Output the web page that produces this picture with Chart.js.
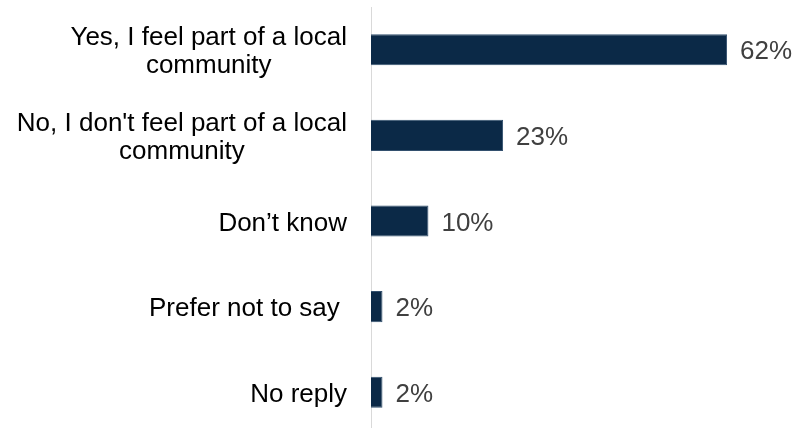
<!DOCTYPE html>
<html>
<head>
<meta charset="utf-8">
<script src="https://cdn.jsdelivr.net/npm/chart.js@4"></script>
<style>
  html, body { margin: 0; padding: 0; background: #fff; overflow: hidden; }
  #wrap { width: 796px; height: 435px; }
</style>
</head>
<body>
<div id="wrap"><canvas id="c"></canvas></div>
<script>
const categories = [
  ['Yes, I feel part of a local', 'community'],
  ['No, I don\'t feel part of a local', 'community'],
  ['Don\u2019t know'],
  ['Prefer not to say '],
  ['No reply']
];
const shares = [62, 23, 10, 2, 2];

const FONT = '26px "Liberation Sans", Arial, sans-serif';

// category labels: block right aligned to the axis, each line centred in the block
const catLabels = {
  id: 'catLabels',
  afterDraw(chart) {
    const ctx = chart.ctx;
    const y = chart.scales.y;
    ctx.save();
    ctx.font = FONT;
    ctx.fillStyle = '#000';
    ctx.textAlign = 'center';
    ctx.textBaseline = 'alphabetic';
    const right = chart.chartArea.left - 24;
    categories.forEach((lines, i) => {
      const cy = y.getPixelForValue(i);
      const w = Math.max(...lines.map(l => ctx.measureText(l).width));
      const cx = right - w / 2;
      lines.forEach((l, j) => {
        ctx.fillText(l, cx, cy + (j - (lines.length - 1) / 2) * 28 + 9.5);
      });
    });
    ctx.restore();
  }
};

// value labels at bar ends
const valLabels = {
  id: 'valLabels',
  afterDatasetsDraw(chart) {
    const ctx = chart.ctx;
    const meta = chart.getDatasetMeta(0);
    ctx.save();
    ctx.font = FONT;
    ctx.fillStyle = '#404040';
    ctx.textAlign = 'left';
    ctx.textBaseline = 'alphabetic';
    meta.data.forEach((bar, i) => {
      ctx.fillText(shares[i] + '%', bar.x + 13, bar.y + 9.5);
    });
    ctx.restore();
  }
};

new Chart(document.getElementById('c'), {
  type: 'bar',
  data: {
    labels: categories.map(c => c.join(' ')),
    datasets: [{
      data: shares,
      backgroundColor: '#0b2947',
      borderColor: '#33506e',
      borderWidth: 1,
      barPercentage: 0.363,
      categoryPercentage: 1
    }]
  },
  options: {
    indexAxis: 'y',
    responsive: true,
    maintainAspectRatio: false,
    animation: false,
    layout: { padding: { top: 7, right: 23, bottom: 0, left: 0 } },
    plugins: { legend: { display: false }, tooltip: { enabled: false } },
    scales: {
      x: { display: false, min: 0, max: 70 },
      y: {
        grid: { display: false, drawTicks: false },
        border: { display: true, color: '#d9d9d9', width: 1 },
        ticks: { display: false },
        afterFit(scale) { scale.width = 371; }
      }
    }
  },
  plugins: [catLabels, valLabels]
});
</script>
</body>
</html>
